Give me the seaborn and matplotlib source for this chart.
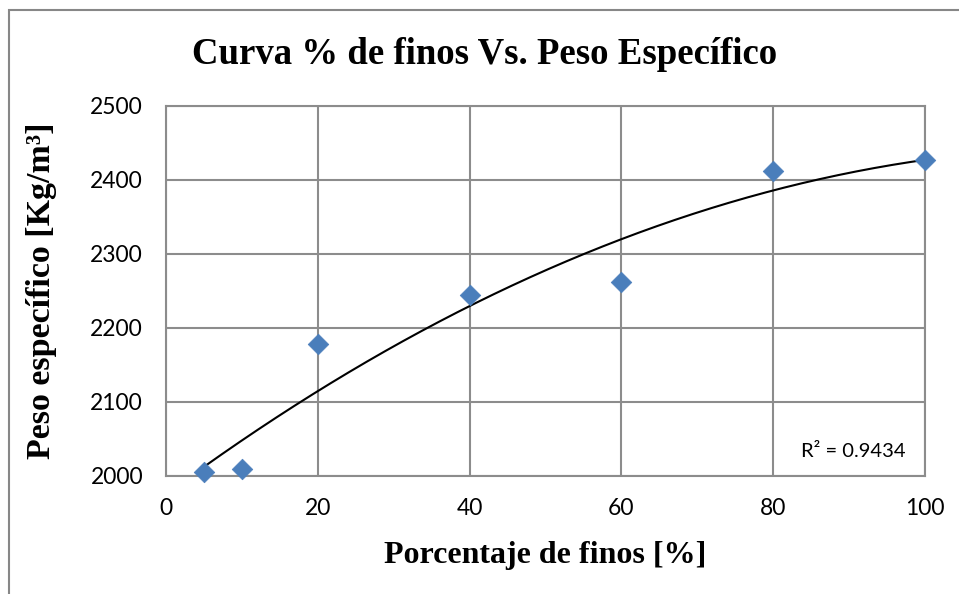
import numpy as np
import pandas as pd
import matplotlib
matplotlib.use("Agg")
import matplotlib.pyplot as plt
import seaborn as sns
from matplotlib.patches import Rectangle

# Data
finos = [5, 10, 20, 40, 60, 80, 100]
peso = [2006, 2009, 2178, 2244, 2262, 2412, 2427]
x_ticks = [0, 20, 40, 60, 80, 100]
y_ticks = [2000, 2100, 2200, 2300, 2400, 2500]
title = "Curva % de finos Vs. Peso Específico"
xlabel = "Porcentaje de finos [%]"
ylabel = "Peso específico [Kg/m³]"
r2_text = "R² = 0.9434"

df = pd.DataFrame({"finos": finos, "peso": peso})

sns.set_style("white")
plt.rcParams["font.family"] = ["Lato", "DejaVu Sans"]
plt.rcParams["text.color"] = "black"
plt.rcParams["axes.labelcolor"] = "black"

W, H = 959, 594
fig = plt.figure(figsize=(W / 100, H / 100), dpi=100)
L, R, T, B = 166, 925, 106, 476
ax = fig.add_axes([L / W, 1 - B / H, (R - L) / W, (B - T) / H])

grid_c = "#8c8c8c"
ax.set_xlim(0, 100)
ax.set_ylim(2000, 2500)
ax.set_xticks(x_ticks)
ax.set_yticks(y_ticks)
ax.grid(True, color=grid_c, linewidth=1.5)
ax.set_axisbelow(True)
for s in ax.spines.values():
    s.set_color(grid_c)
    s.set_linewidth(1.5)
ax.tick_params(axis="both", length=6.5, width=1.5, color=grid_c, labelsize=16.5,
               labelcolor="black", direction="out")
ax.tick_params(axis="y", pad=10)
ax.tick_params(axis="x", pad=9)

# trendline (2nd order polynomial fit of the data)
coef = np.polyfit(finos, peso, 2)
xs = np.linspace(min(finos), max(finos), 200)
sns.lineplot(x=xs, y=np.polyval(coef, xs), ax=ax, color="black", linewidth=1.5, zorder=3)

sns.scatterplot(data=df, x="finos", y="peso", ax=ax, marker="D", s=110,
                color="#4a7ebb", edgecolor="#4a7ebb", linewidth=0.5, zorder=4, clip_on=False)

ax.set_xlabel(xlabel, family=["Liberation Serif"], fontweight="bold", fontsize=23, labelpad=16)
ax.set_ylabel(ylabel, family=["Liberation Serif"], fontweight="bold", fontsize=24.5, labelpad=24)

fig.text(485 / W, 1 - 55 / H, title, family=["Liberation Serif"], fontweight="bold",
         fontsize=26.5, ha="center", va="center", color="black")

ax.text(97.5, 2000 + (476 - 451) / 0.742, r2_text, ha="right", va="center",
        fontsize=14.5, color="black")

# chart border
fig.patches.append(Rectangle((9 / W, -0.1), 1.2, 1 - 10 / H + 0.1, transform=fig.transFigure,
                             fill=False, edgecolor="#878787", linewidth=1.5))

fig.savefig("out.png", dpi=100)
